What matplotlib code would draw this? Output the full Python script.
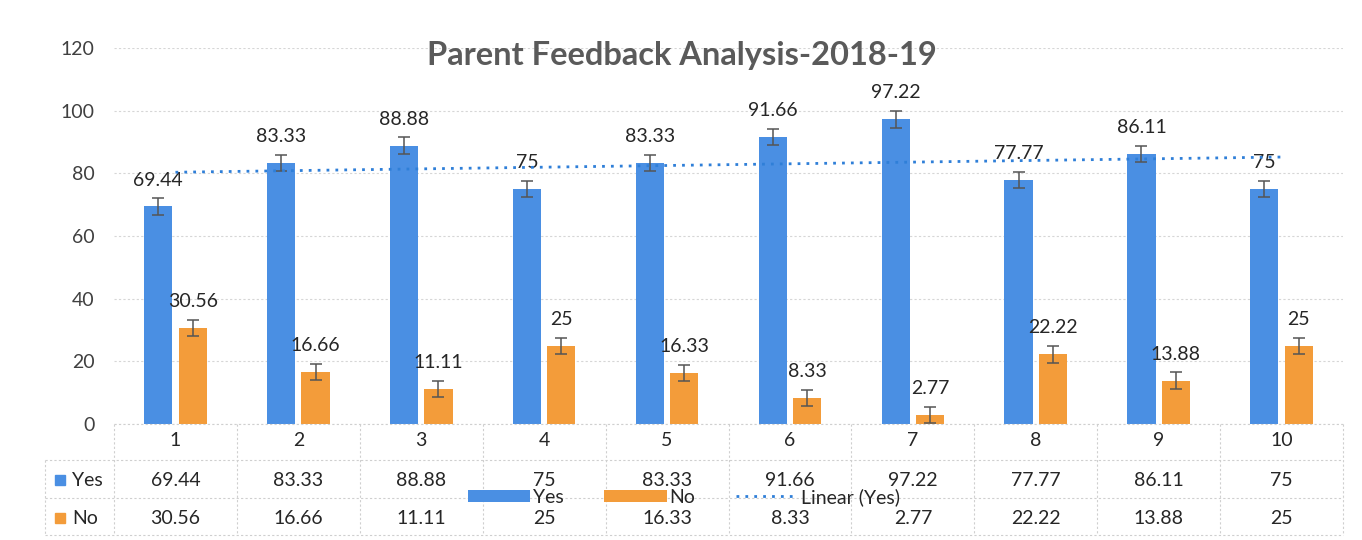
import matplotlib.pyplot as plt
import numpy as np
from matplotlib.transforms import blended_transform_factory
from matplotlib.patches import Rectangle
from matplotlib.lines import Line2D

plt.rcParams['font.family'] = ['Lato', 'DejaVu Sans']

categories = ['1', '2', '3', '4', '5', '6', '7', '8', '9', '10']
yes_vals = [69.44, 83.33, 88.88, 75, 83.33, 91.66, 97.22, 77.77, 86.11, 75]
no_vals = [30.56, 16.66, 11.11, 25, 16.33, 8.33, 2.77, 22.22, 13.88, 25]
yes_labels = ['69.44', '83.33', '88.88', '75', '83.33', '91.66', '97.22', '77.77', '86.11', '75']
no_labels = ['30.56', '16.66', '11.11', '25', '16.33', '8.33', '2.77', '22.22', '13.88', '25']
err = 2.6
title = 'Parent Feedback Analysis-2018-19'

blue = '#4a8fe3'
orange = '#f39c3a'
txt = '#262626'

W, H = 1362, 540
fig = plt.figure(figsize=(W / 100, H / 100), dpi=100)


def fy(p):
    return 1 - p / H


def fx(p):
    return p / W


ax_left, ax_right, ax_top, ax_bot = 114, 1343, 48, 424
ax = fig.add_axes([fx(ax_left), fy(ax_bot), fx(ax_right - ax_left), (ax_bot - ax_top) / H])

x = np.arange(len(categories))
w = 0.23
off = 0.14

ax.bar(x - off, yes_vals, w, color=blue, zorder=3, label='Yes')
ax.bar(x + off, no_vals, w, color=orange, zorder=3, label='No')
ax.errorbar(x - off, yes_vals, yerr=err, fmt='none', ecolor='#555555', elinewidth=1.1,
            capsize=4, capthick=1.1, zorder=4)
ax.errorbar(x + off, no_vals, yerr=err, fmt='none', ecolor='#555555', elinewidth=1.1,
            capsize=4, capthick=1.1, zorder=4)

# linear trendline on Yes
k, b = np.polyfit(x + 1, yes_vals, 1)
trend = k * (x + 1) + b
ax.plot(x, trend, color='#2f7fd8', linestyle=(0, (1, 2.2)), linewidth=2, zorder=5,
        label='Linear (Yes)')

for i in range(len(x)):
    ax.annotate(yes_labels[i], (x[i] - off, yes_vals[i]), xytext=(0, 19),
                textcoords='offset points', ha='center', va='center', fontsize=14, color=txt)
    ax.annotate(no_labels[i], (x[i] + off, no_vals[i]), xytext=(0, 19),
                textcoords='offset points', ha='center', va='center', fontsize=14, color=txt)

ax.set_xlim(-0.5, len(x) - 0.5)
ax.set_ylim(0, 120)
ax.set_yticks(np.arange(0, 121, 20))
ax.set_xticks([])
ax.tick_params(axis='y', length=0, labelsize=14, labelcolor='#404040', pad=14)
ax.grid(axis='y', color='#d6d6d6', linestyle=(0, (2, 2)), linewidth=0.8, zorder=0)
for s in ax.spines.values():
    s.set_visible(False)

fig.text(fx(682), fy(56), title, ha='center', va='center', fontsize=23.5,
         fontweight='bold', color='#5a5a5a')

# data table below the chart
tr = blended_transform_factory(ax.transData, fig.transFigure)
grid_kw = dict(color='#cfcfcf', linestyle=(0, (2, 2)), linewidth=0.8)
row_lines = [424, 460, 498, 535]
for p in row_lines:
    x0 = ax_left if p == 424 else 45
    fig.add_artist(Line2D([fx(x0), fx(ax_right)], [fy(p), fy(p)], **grid_kw))
for j in range(len(x) + 1):
    fig.add_artist(Line2D([ax_left / W + j * (ax_right - ax_left) / W / len(x)] * 2,
                          [fy(424), fy(535)], **grid_kw))
fig.add_artist(Line2D([fx(45), fx(45)], [fy(460), fy(535)], **grid_kw))

for i in range(len(x)):
    ax.text(x[i], fy(441), categories[i], transform=tr, ha='center', va='center',
            fontsize=14, color=txt, clip_on=False)
    ax.text(x[i], fy(480), yes_labels[i], transform=tr, ha='center', va='center',
            fontsize=14, color=txt, clip_on=False)
    ax.text(x[i], fy(518), no_labels[i], transform=tr, ha='center', va='center',
            fontsize=14, color=txt, clip_on=False)

for p, lab, c in [(480, 'Yes', blue), (518, 'No', orange)]:
    fig.add_artist(Rectangle((fx(55), fy(p) - 5 / H), 10 / W, 10 / H, color=c))
    fig.text(fx(72), fy(p), lab, ha='left', va='center', fontsize=14, color=txt)

handles, labels = ax.get_legend_handles_labels()
order = [1, 2, 0]
leg = fig.legend([handles[i] for i in order], [labels[i] for i in order],
                 loc='center', bbox_to_anchor=(fx(684), fy(497)), ncol=3, frameon=False,
                 fontsize=14, handlelength=3.2, handleheight=0.6, columnspacing=2.1,
                 handletextpad=0.15, labelcolor=txt)

fig.savefig('out.png', dpi=100, facecolor='white')
